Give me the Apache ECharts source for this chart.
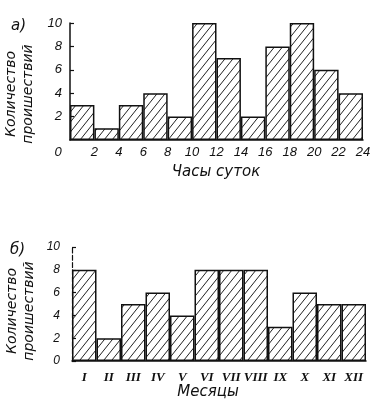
<!DOCTYPE html>
<html><head><meta charset="utf-8">
<script src="https://cdn.jsdelivr.net/npm/echarts@6/dist/echarts.min.js"></script>
<style>html,body{margin:0;padding:0;background:#fff}#c{width:378px;height:404px}</style>
</head><body><div id="c"></div>
<script>
const hourTicks = [0,2,4,6,8,10,12,14,16,18,20,22,24];
const hourBins = ['0-2','2-4','4-6','6-8','8-10','10-12','12-14','14-16','16-18','18-20','20-22','22-24'];
const hourCounts = [3,1,3,4,2,10,7,2,8,10,6,4];
const months = ['I','II','III','IV','V','VI','VII','VIII','IX','X','XI','XII'];
const monthCounts = [8,2,5,6,4,8,8,8,3,6,5,5];

function hatch(){
  const w=8,h=10;
  const c=document.createElement('canvas'); c.width=w; c.height=h;
  const g=c.getContext('2d');
  g.strokeStyle='#222'; g.lineWidth=1;
  g.beginPath();
  g.moveTo(0,h); g.lineTo(w,0);
  g.moveTo(-1,1.25); g.lineTo(1,-1.25);
  g.moveTo(w-1,h+1.25); g.lineTo(w+1,h-1.25);
  g.stroke();
  return c;
}
const pat = {image: hatch(), repeat:'repeat'};
const TF = "'Liberation Sans Narrow','Liberation Sans',sans-serif";
const tickFont = {fontFamily:TF, fontStyle:'italic', fontWeight:'normal', fontSize:13, color:'#111'};
const nameFont = {fontFamily:'DejaVu Sans', fontStyle:'italic', fontSize:15, fill:'#111'};
const nf = o => Object.assign({}, nameFont, o);

const chart = echarts.init(document.getElementById('c'), null, {renderer:'canvas'});
chart.setOption({
  animation:false,
  backgroundColor:'#fff',
  grid:[
    {left:70, right:15, top:23, bottom:264},
    {left:72, right:12, top:247, bottom:43}
  ],
  xAxis:[
    {type:'category', gridIndex:0, data:hourBins, boundaryGap:true,
     axisLine:{lineStyle:{color:'#111', width:1.5}}, axisTick:{show:false}, axisLabel:{show:false}},
    {type:'value', gridIndex:0, min:0, max:24, interval:2, position:'bottom',
     axisLine:{show:false}, axisTick:{show:false}, splitLine:{show:false},
     axisLabel:Object.assign({margin:6, formatter:v=> v===0?'{z|0}':String(v),
       rich:{z:{padding:[0,24,0,0], fontFamily:TF, fontStyle:'italic', fontSize:13, color:'#111'}}}, tickFont)},
    {type:'category', gridIndex:1, data:months, boundaryGap:true,
     axisLine:{lineStyle:{color:'#111', width:1.5}}, axisTick:{show:false},
     axisLabel:Object.assign({margin:10, interval:0}, tickFont, {fontFamily:"'Liberation Serif',serif", fontWeight:'bold', fontSize:13})}
  ],
  yAxis:[
    {type:'value', gridIndex:0, min:0, max:10, interval:2,
     axisLine:{show:true, lineStyle:{color:'#111', width:1.5}},
     axisTick:{show:true, inside:true, length:4, lineStyle:{color:'#111', width:1.2}},
     splitLine:{show:false},
     axisLabel:Object.assign({margin:8, showMinLabel:false, formatter:v=>String(v)}, tickFont)},
    {type:'value', gridIndex:1, min:0, max:10, interval:2,
     axisLine:{show:true, lineStyle:{color:'#111', width:1.2, type:'dashed'}},
     axisTick:{show:true, inside:true, length:4, lineStyle:{color:'#111', width:1.2}},
     splitLine:{show:false},
     axisLabel:Object.assign({margin:12}, tickFont, {fontSize:12})}
  ],
  series:[
    {type:'bar', xAxisIndex:0, yAxisIndex:0, data:hourCounts, barCategoryGap:'0%',
     itemStyle:{color:pat, borderColor:'#111', borderWidth:1.5}},
    {type:'bar', xAxisIndex:2, yAxisIndex:1, data:monthCounts, barCategoryGap:'0%',
     itemStyle:{color:pat, borderColor:'#111', borderWidth:1.5}}
  ],
  graphic:[
    {type:'text', x:11, y:26, style:nf({text:'а)', verticalAlign:'middle'})},
    {type:'text', x:10, y:250, style:nf({text:'б)', verticalAlign:'middle'})},
    {type:'text', x:216, y:172, style:nf({text:'Часы суток', align:'center', verticalAlign:'middle'})},
    {type:'text', x:208, y:392, style:nf({text:'Месяцы', align:'center', verticalAlign:'middle'})},
    {type:'text', x:20, y:94, rotation:Math.PI/2,
     style:nf({text:'Количество\nпроишествий', align:'center', verticalAlign:'middle', fontSize:14, lineHeight:17})},
    {type:'text', x:21, y:311, rotation:Math.PI/2,
     style:nf({text:'Количество\nпроишествий', align:'center', verticalAlign:'middle', fontSize:14, lineHeight:17})}
  ]
});
</script></body></html>
